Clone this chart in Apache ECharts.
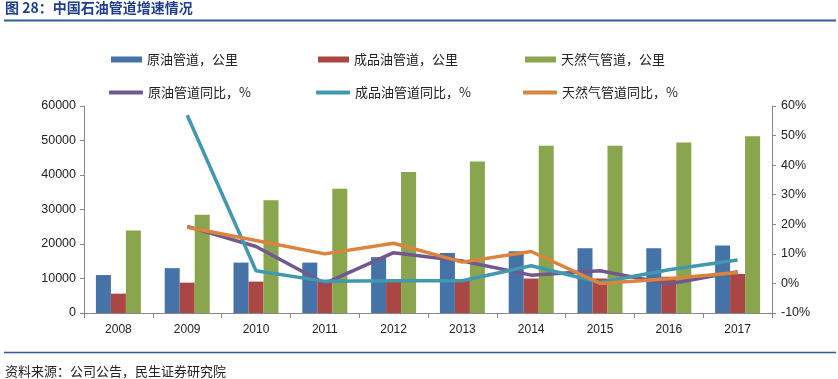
<!DOCTYPE html>
<html><head><meta charset="utf-8">
<script src="https://cdn.jsdelivr.net/npm/echarts@6/dist/echarts.min.js"></script>
<style>html,body{margin:0;padding:0;background:#fff}#c{width:838px;height:379px}</style>
</head><body><div id="c"></div>
<script>
var years = ['2008','2009','2010','2011','2012','2013','2014','2015','2016','2017'];
var crudeKm = [11000,13000,14600,14600,16200,17400,17900,18800,18800,19600];
var productKm = [5600,8800,9100,9200,9300,9400,10000,10000,10500,11300];
var gasKm = [23900,28500,32700,36000,40900,43900,48500,48500,49400,51200];
var crudeYoY = [null,19.3,12.5,0,10.4,7.6,2.8,4.3,-0.2,4.0];
var productYoY = [null,56.9,4.3,0.7,0.9,0.9,6.0,0.3,4.6,7.9];
var gasYoY = [null,19.0,14.5,10.0,13.6,7.2,10.8,0,1.6,3.7];
var leftTicks = [0,60000,10000];
var rightTicks = [-10,60,10];

var names = ['原油管道，公里','成品油管道，公里','天然气管道，公里','原油管道同比，%','成品油管道同比，%','天然气管道同比，%'];
var colors = ['#4572A7','#AA4643','#89A54E','#71588F','#4198AF','#DB843D'];
var cjk = '"Noto Sans CJK SC", sans-serif';
var num = '"Liberation Sans", Arial, sans-serif';

function leg(i, left, top, isLine){
  return {
    data:[names[i]], left:left, top:top, orient:'horizontal',
    icon: isLine ? 'roundRect' : 'rect',
    itemWidth: isLine ? 34 : 31, itemHeight: isLine ? 4 : 6,
    textStyle:{fontFamily:cjk, fontSize:13, color:'#222'},
    padding:0
  };
}
var chart = echarts.init(document.getElementById('c'), null, {renderer:'canvas'});
chart.setOption({
  animation:false,
  title:[
    {text:'图 28：中国石油管道增速情况', left:5, top:1, padding:0,
     textStyle:{fontFamily:cjk, fontSize:14, fontWeight:'bold', color:'#1F3F8C'}},
    {text:'资料来源：公司公告，民生证券研究院', left:5, top:365, padding:0,
     textStyle:{fontFamily:cjk, fontSize:13, fontWeight:'normal', color:'#222'}}
  ],
  graphic:[
    {type:'line', shape:{x1:4,y1:20.5,x2:836,y2:20.5}, style:{stroke:'#2F5C9E', lineWidth:2}},
    {type:'line', shape:{x1:4,y1:352.5,x2:836,y2:352.5}, style:{stroke:'#2F5C9E', lineWidth:1.5}}
  ],
  legend:[
    leg(0,111,53,false), leg(1,318,53,false), leg(2,525,53,false),
    leg(3,109,86,true), leg(4,316,86,true), leg(5,523,86,true)
  ],
  grid:{left:84, right:66, top:106, bottom:66},
  xAxis:{type:'category', data:years,
    axisLine:{lineStyle:{color:'#888'}},
    axisTick:{show:true, length:5, lineStyle:{color:'#888'}},
    axisLabel:{fontFamily:num, fontSize:12, color:'#222', margin:11}},
  yAxis:[
    {type:'value', min:leftTicks[0], max:leftTicks[1], interval:leftTicks[2],
     axisLine:{show:true, lineStyle:{color:'#888'}},
     axisTick:{show:true, length:4, lineStyle:{color:'#888'}},
     splitLine:{show:false},
     axisLabel:{fontFamily:num, fontSize:12.5, color:'#222', margin:8, formatter:function(v){return String(v);}}},
    {type:'value', min:rightTicks[0], max:rightTicks[1], interval:rightTicks[2],
     axisLine:{show:true, lineStyle:{color:'#888'}},
     axisTick:{show:true, length:4, lineStyle:{color:'#888'}},
     splitLine:{show:false},
     axisLabel:{fontFamily:num, fontSize:12.5, color:'#222', margin:9, formatter:'{value}%'}}
  ],
  series:[
    {name:names[0], type:'bar', data:crudeKm, barWidth:15, barGap:'0%', itemStyle:{color:colors[0]}},
    {name:names[1], type:'bar', data:productKm, barWidth:15, barGap:'0%', itemStyle:{color:colors[1]}},
    {name:names[2], type:'bar', data:gasKm, barWidth:15, barGap:'0%', itemStyle:{color:colors[2]}},
    {name:names[3], type:'line', yAxisIndex:1, data:crudeYoY, showSymbol:false, symbol:'none', lineStyle:{width:3.5, color:colors[3]}, itemStyle:{color:colors[3]}},
    {name:names[4], type:'line', yAxisIndex:1, data:productYoY, showSymbol:false, symbol:'none', lineStyle:{width:3.5, color:colors[4]}, itemStyle:{color:colors[4]}},
    {name:names[5], type:'line', yAxisIndex:1, data:gasYoY, showSymbol:false, symbol:'none', lineStyle:{width:3.5, color:colors[5]}, itemStyle:{color:colors[5]}}
  ]
});
</script></body></html>
